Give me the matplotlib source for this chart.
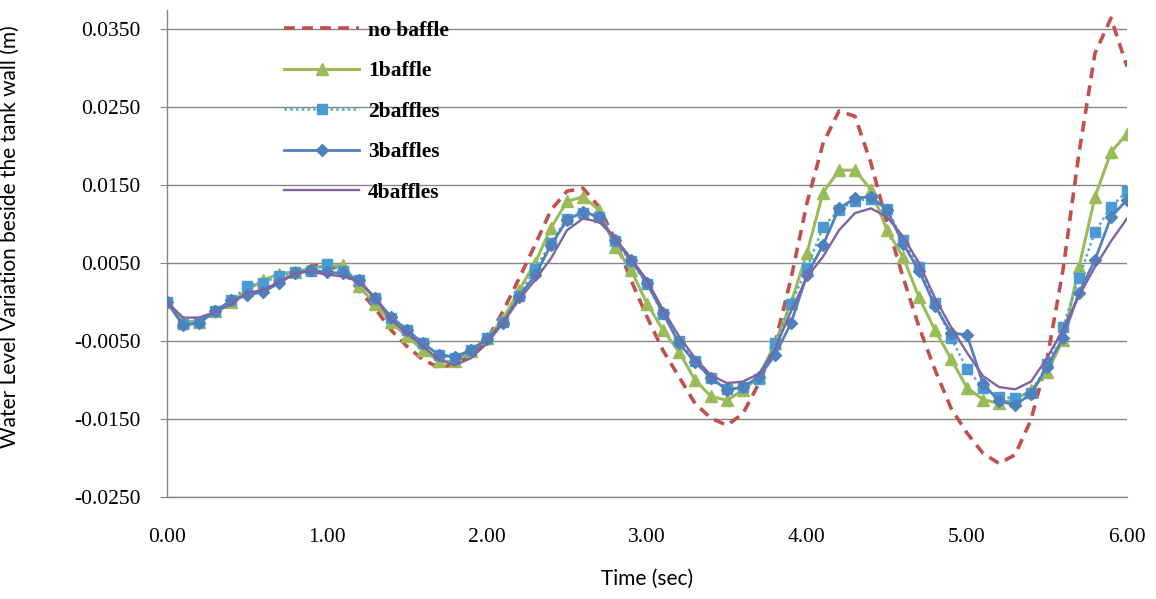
import numpy as np
import matplotlib.pyplot as plt

# time axis (sec), one reading every 0.1 s
time_sec = [round(0.1 * i, 1) for i in range(61)]

# water level beside the tank wall in mm (scaled to m below)
no_baffle_mm = [0, -2.5, -2.4, -1.3, 0.0, 1.0, 1.8, 3.0, 3.8, 4.6,
                4.7, 4.0, 1.5, -0.8, -3.6, -5.7, -7.4, -8.4, -8.0, -6.8,
                -4.8, -1.2, 3.0, 7.3, 11.8, 14.2, 14.6, 12.2, 8.0, 2.8,
                -1.9, -6.2, -9.6, -13.0, -14.9, -15.8, -14.3, -10.4, -5.3, 3.0,
                12.7, 20.3, 24.5, 23.8, 17.8, 10.1, 3.2, -3.2, -8.7, -13.6,
                -16.8, -19.4, -20.7, -19.6, -15.1, -7.4, 4.1, 19.1, 31.9, 36.4,
                30.2]
one_baffle_mm = [0, -2.5, -2.5, -1.2, 0.0, 1.5, 2.8, 3.6, 3.9, 4.3,
                 4.6, 4.7, 2.0, -0.2, -2.6, -4.4, -6.2, -7.6, -7.6, -6.3,
                 -4.6, -2.2, 1.5, 5.0, 9.5, 12.9, 13.5, 11.8, 7.1, 4.1,
                 -0.2, -3.6, -6.4, -10.0, -12.1, -12.6, -11.3, -9.6, -5.3, -0.1,
                 6.3, 14.0, 16.9, 16.9, 14.4, 9.2, 5.8, 0.6, -3.6, -7.3,
                 -11.0, -12.5, -13.0, -12.5, -11.3, -9.0, -4.9, 4.5, 13.5, 19.2,
                 21.6]
two_baffles_mm = [0, -2.8, -2.6, -1.2, 0.2, 2.0, 2.5, 3.3, 3.8, 4.0,
                  4.9, 4.0, 2.8, 0.5, -2.0, -3.6, -5.2, -6.8, -7.2, -6.2,
                  -4.6, -2.6, 0.8, 4.2, 7.6, 10.7, 11.4, 10.9, 7.8, 5.2,
                  2.3, -1.6, -5.0, -7.6, -9.8, -11.2, -10.9, -9.9, -5.3, -0.2,
                  4.3, 9.6, 11.8, 13.0, 13.2, 11.9, 7.9, 4.5, -0.1, -4.6,
                  -8.6, -11.0, -12.2, -12.3, -11.7, -8.0, -3.2, 3.1, 9.0, 12.2,
                  14.2]
three_baffles_mm = [0, -3.0, -2.7, -1.2, 0.2, 0.9, 1.3, 2.4, 3.7, 4.1,
                    3.8, 3.7, 2.8, 0.5, -1.9, -3.6, -5.3, -6.8, -7.0, -6.2,
                    -4.7, -2.7, 0.7, 3.4, 7.3, 10.5, 11.6, 10.9, 8.0, 5.4,
                    2.4, -1.4, -5.3, -7.7, -9.7, -11.3, -10.9, -9.6, -6.8, -2.7,
                    3.5, 7.3, 12.0, 13.3, 13.5, 11.8, 7.5, 4.0, -0.5, -4.0,
                    -4.2, -10.5, -12.7, -13.2, -11.8, -8.3, -4.6, 1.2, 5.4, 10.9,
                    13.1]
four_baffles_mm = [0, -2.0, -2.0, -1.3, -0.3, 1.2, 1.5, 2.6, 3.7, 3.9,
                   3.5, 3.3, 2.6, 0.5, -2.3, -4.0, -5.7, -7.4, -8.1, -7.2,
                   -5.3, -2.7, 0.3, 2.8, 5.6, 9.2, 10.7, 10.3, 8.2, 5.6,
                   2.8, -1.0, -4.4, -7.2, -9.4, -10.4, -10.2, -9.2, -6.0, -1.2,
                   3.2, 5.8, 9.2, 11.4, 12.0, 10.9, 8.4, 5.0, 0.5, -3.2,
                   -6.5, -9.5, -10.9, -11.2, -10.2, -7.2, -3.5, 0.8, 4.5, 7.8,
                   10.7]

labels = ['no baffle', '1baffle', '2baffles', '3baffles', '4baffles']
y_ticks = [-0.025, -0.015, -0.005, 0.005, 0.015, 0.025, 0.035]
x_ticks = [0, 1, 2, 3, 4, 5, 6]

t = np.array(time_sec)
to_m = lambda v: np.array(v) / 1000.0

fig = plt.figure(figsize=(11.56, 5.99), dpi=100)
ax = fig.add_axes([167 / 1156, 1 - 497 / 599, 960 / 1156, 487.5 / 599])

ax.plot(t, to_m(no_baffle_mm), color='#C0504D', lw=2.6,
        linestyle=(0, (3, 2)), label=labels[0], zorder=3)
ax.plot(t, to_m(one_baffle_mm), color='#9BBB59', lw=2.2, marker='^',
        markersize=8, label=labels[1], zorder=4)
ax.plot(t, to_m(two_baffles_mm), color='#4BACC6', lw=1.8,
        linestyle=(0, (1, 1.3)), marker='s', markersize=7.5,
        markerfacecolor='#4A9AD4', markeredgecolor='#4A9AD4',
        label=labels[2], zorder=5)
ax.plot(t, to_m(three_baffles_mm), color='#4F81BD', lw=2.0, marker='D',
        markersize=6, label=labels[3], zorder=6)
ax.plot(t, to_m(four_baffles_mm), color='#8064A2', lw=1.7,
        label=labels[4], zorder=7)

ax.set_xlim(0, 6)
ax.set_ylim(-0.025, 0.0375)
ax.set_yticks(y_ticks)
ax.set_yticklabels([f'{v:.4f}' for v in y_ticks])
ax.set_xticks(x_ticks)
ax.set_xticklabels([f'{v:.2f}' for v in x_ticks])
ax.yaxis.grid(True, color='#868686', lw=1.0)
ax.set_axisbelow(True)

for side in ['top', 'right']:
    ax.spines[side].set_visible(False)
for side in ['left', 'bottom']:
    ax.spines[side].set_color('#868686')
    ax.spines[side].set_linewidth(1.0)

for lab in ax.get_yticklabels() + ax.get_xticklabels():
    lab.set_fontfamily('Liberation Serif')
    lab.set_fontsize(15.5)
ax.tick_params(axis='y', length=5, color='#868686', pad=14)
ax.tick_params(axis='x', length=0, pad=22)

ax.set_xlabel('Time (sec)', family='Lato', fontsize=15, labelpad=16)
ax.set_ylabel('Water Level Variation beside the tank wall (m)', family='Lato',
              fontsize=15, labelpad=12)
ax.yaxis.set_label_coords(-0.153, 0.535)

ax.legend(loc='upper left', bbox_to_anchor=((284 - 167) / 960, 0.977),
          frameon=False, prop={'family': 'Liberation Serif', 'size': 15.5,
                               'weight': 'bold'},
          handlelength=3.5, handletextpad=0.4, labelspacing=0.95,
          borderpad=0, borderaxespad=0)

fig.savefig('out.png', dpi=100)
